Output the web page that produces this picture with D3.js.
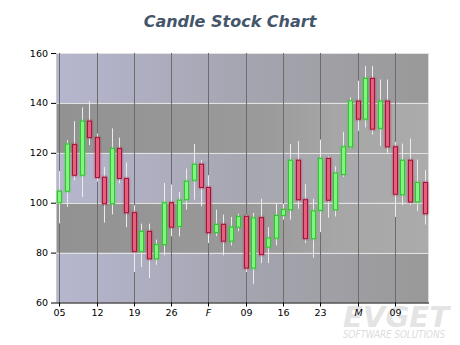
<!DOCTYPE html>
<html>
<head>
<meta charset="utf-8">
<script src="https://cdn.jsdelivr.net/npm/d3@7"></script>
<style>
  html, body { margin: 0; padding: 0; background: #ffffff; }
  svg { display: block; }
</style>
</head>
<body>
<svg id="chart" width="460" height="345"></svg>
<script>
// Daily candles, trading days 5 Jan – 13 Mar 2009
const dayIndex = d3.range(50);
const openValues = [100.0,104.6,123.3,111.0,132.7,126.1,110.2,99.6,121.7,109.7,
                    96.0,80.5,88.5,77.5,83.2,100.0,90.5,101.2,109.0,115.4,
                    106.1,88.0,91.3,84.6,90.2,94.5,73.8,94.0,82.2,85.8,
                    94.9,97.2,117.0,101.2,85.6,96.9,117.7,97.2,111.3,122.4,
                    140.7,133.5,149.8,129.8,140.7,122.4,103.2,117.0,100.3,108.1];
const highValues = [112.7,125.1,132.7,138.2,140.7,127.7,114.3,129.8,126.1,116.1,
                    99.0,91.6,91.6,85.2,107.9,107.3,104.3,113.7,123.5,117.0,
                    111.0,97.2,95.2,94.3,95.6,95.2,95.9,101.6,90.2,99.9,
                    99.6,123.5,124.7,107.4,101.6,125.3,118.6,114.6,128.4,142.2,
                    148.9,154.8,154.8,149.4,149.4,124.4,123.7,125.7,117.3,113.0];
const lowValues  = [91.7,98.3,109.0,102.3,123.1,108.5,92.0,95.3,107.8,90.2,
                    72.2,74.2,69.8,75.1,78.9,86.5,86.5,97.2,101.2,98.6,
                    83.8,86.6,78.9,82.9,88.6,72.2,67.5,75.8,75.8,82.9,
                    93.2,93.2,97.6,83.8,78.0,88.2,94.0,94.5,110.3,121.7,
                    128.8,130.2,127.3,122.7,120.0,94.3,99.0,99.0,96.7,91.3];
const closeValues = [104.6,123.5,111.0,132.7,126.1,110.1,99.6,121.7,109.7,96.0,
                     80.5,88.5,77.5,83.2,100.0,90.2,101.0,108.6,115.4,106.1,
                     88.0,91.3,84.6,90.2,94.5,73.8,93.9,79.2,85.8,94.9,
                     97.3,117.0,101.2,85.6,96.7,117.7,101.0,111.9,122.4,140.8,
                     133.5,149.8,129.5,140.7,122.4,103.4,117.0,100.3,108.1,95.6];

// Weekly ticks (Mondays); month starts are set in italics
const tickIndex  = [0, 5, 10, 15, 20, 25, 30, 35, 40, 45];
const tickLabels = ["05", "12", "19", "26", "F", "09", "16", "23", "M", "09"];
const monthStart = [false, false, false, false, true, false, false, false, true, false];
const yTicks = [60, 80, 100, 120, 140, 160];
const stripeBands = [[120, 140], [80, 100]];

const svg = d3.select("#chart");
const plotLeft = 56, plotRight = 428, plotTop = 53, plotBottom = 302.5;

const x = d3.scaleLinear().domain([-0.45, 49.45]).range([plotLeft, plotRight]);
const y = d3.scaleLinear().domain([60, 160]).range([plotBottom, plotTop]);

const defs = svg.append("defs");
function hGrad(id, stops) {
  const g = defs.append("linearGradient").attr("id", id)
    .attr("x1", 0).attr("x2", 1).attr("y1", 0).attr("y2", 0);
  stops.forEach(([o, c]) => g.append("stop").attr("offset", o).attr("stop-color", c));
}
hGrad("wallOuter", [[0, "#b6b6cf"], [0.5, "#a5a5b1"], [1, "#999999"]]);
hGrad("wallInner", [[0, "#b6b6cf"], [0.5, "#a7a7b2"], [1, "#ababab"]]);
hGrad("stripe", [[0, "#929292"], [0.55, "#9a9a9a"], [0.75, "#a6a6a6"], [1, "#ababab"]]);

const glow = defs.append("filter").attr("id", "glow")
  .attr("x", "-100%").attr("y", "-20%").attr("width", "300%").attr("height", "140%");
glow.append("feGaussianBlur").attr("in", "SourceGraphic").attr("stdDeviation", 1.2).attr("result", "b");
const merge = glow.append("feMerge");
merge.append("feMergeNode").attr("in", "b");
merge.append("feMergeNode").attr("in", "SourceGraphic");

// Watermark
const wm = svg.append("g").attr("font-family", "DejaVu Sans, Verdana, sans-serif")
  .attr("font-style", "italic").attr("fill", "#e4e4e4");
wm.append("text").attr("x", 343).attr("y", 327).attr("font-size", 29).attr("font-weight", "bold")
  .attr("textLength", 106).attr("lengthAdjust", "spacingAndGlyphs").text("EVGET");
wm.append("text").attr("x", 343).attr("y", 337.5).attr("font-size", 10.5)
  .attr("fill", "#dcdcdc")
  .attr("textLength", 102).attr("lengthAdjust", "spacingAndGlyphs").text("SOFTWARE SOLUTIONS");

// Title
svg.append("text").attr("x", 230).attr("y", 26.5).attr("text-anchor", "middle")
  .attr("font-family", "DejaVu Sans, Verdana, sans-serif").attr("font-size", 16)
  .attr("font-weight", "bold").attr("font-style", "italic").attr("fill", "#45566a")
  .text("Candle Stock Chart");

// Plot wall
const wall = svg.append("g");
const bands = d3.pairs(yTicks);
wall.selectAll("rect.band").data(bands).join("rect").attr("class", "band")
  .attr("x", plotLeft).attr("width", plotRight - plotLeft)
  .attr("y", d => y(d[1])).attr("height", d => y(d[0]) - y(d[1]))
  .attr("fill", d => (d[0] === 100 ? "url(#wallInner)" : "url(#wallOuter)"));
wall.selectAll("rect.stripe").data(stripeBands).join("rect").attr("class", "stripe")
  .attr("x", plotLeft).attr("width", plotRight - plotLeft)
  .attr("y", d => y(d[1])).attr("height", d => y(d[0]) - y(d[1]))
  .attr("fill", "url(#stripe)");

// Grid lines
wall.selectAll("line.hgrid").data(yTicks.slice(1)).join("line").attr("class", "hgrid")
  .attr("x1", plotLeft).attr("x2", plotRight)
  .attr("y1", d => Math.round(y(d)) + 0.5).attr("y2", d => Math.round(y(d)) + 0.5)
  .attr("stroke", "#e2e2e2").attr("stroke-width", 1);
wall.selectAll("line.vgrid").data(tickIndex).join("line").attr("class", "vgrid")
  .attr("x1", d => Math.round(x(d)) + 0.5).attr("x2", d => Math.round(x(d)) + 0.5)
  .attr("y1", plotTop).attr("y2", plotBottom)
  .attr("stroke", "#6c6c6c").attr("stroke-width", 1);
wall.append("line").attr("x1", plotRight + 0.5).attr("x2", plotRight + 0.5)
  .attr("y1", plotTop).attr("y2", plotBottom).attr("stroke", "#dedede");
wall.append("line").attr("x1", plotLeft + 0.5).attr("x2", plotLeft + 0.5)
  .attr("y1", plotTop).attr("y2", plotBottom).attr("stroke", "#c8c8d4");

// Candles
const candles = svg.append("g");
const bodyW = 4;
const cg = candles.selectAll("g.candle").data(dayIndex).join("g").attr("class", "candle");
cg.append("line")
  .attr("x1", i => Math.round(x(i)) + 0.5).attr("x2", i => Math.round(x(i)) + 0.5)
  .attr("y1", i => y(highValues[i])).attr("y2", i => y(lowValues[i]))
  .attr("stroke", "#ececec").attr("stroke-width", 1);
cg.append("rect")
  .attr("x", i => Math.round(x(i)) - bodyW / 2 + 0.5)
  .attr("width", bodyW)
  .attr("y", i => y(Math.max(openValues[i], closeValues[i])))
  .attr("height", i => Math.max(1, Math.abs(y(openValues[i]) - y(closeValues[i]))))
  .attr("fill", i => closeValues[i] >= openValues[i] ? "#80f57f" : "#e5607c")
  .attr("stroke", i => closeValues[i] >= openValues[i] ? "#33c233" : "#a3173a")
  .attr("stroke-width", 1)
  .attr("filter", "url(#glow)");

// Axes
const yAxis = d3.axisLeft(y).tickValues(yTicks).tickSize(5).tickPadding(3).tickSizeOuter(0);
const gy = svg.append("g").attr("transform", `translate(${plotLeft},0)`).call(yAxis);
gy.select(".domain").remove();
gy.selectAll("line").attr("stroke", "#000");
gy.selectAll("text").attr("font-family", "DejaVu Sans, Verdana, sans-serif")
  .attr("font-size", 9.5).attr("fill", "#000");

const xAxis = d3.axisBottom(x).tickValues(tickIndex).tickSize(4).tickPadding(3).tickSizeOuter(0)
  .tickFormat((d, i) => tickLabels[i]);
const gx = svg.append("g").attr("transform", `translate(0,${plotBottom})`).call(xAxis);
gx.select(".domain").attr("stroke", "#000").attr("d", `M${plotLeft},0.5H${plotRight + 1}`);
gx.selectAll(".tick").attr("transform", d => `translate(${Math.round(x(d)) + 0.5},0)`);
gx.selectAll("line").attr("stroke", "#000");
gx.selectAll("text").attr("font-family", "DejaVu Sans, Verdana, sans-serif")
  .attr("font-size", 9.5).attr("fill", "#000")
  .attr("font-style", (d, i) => monthStart[i] ? "italic" : "normal");
</script>
</body>
</html>
